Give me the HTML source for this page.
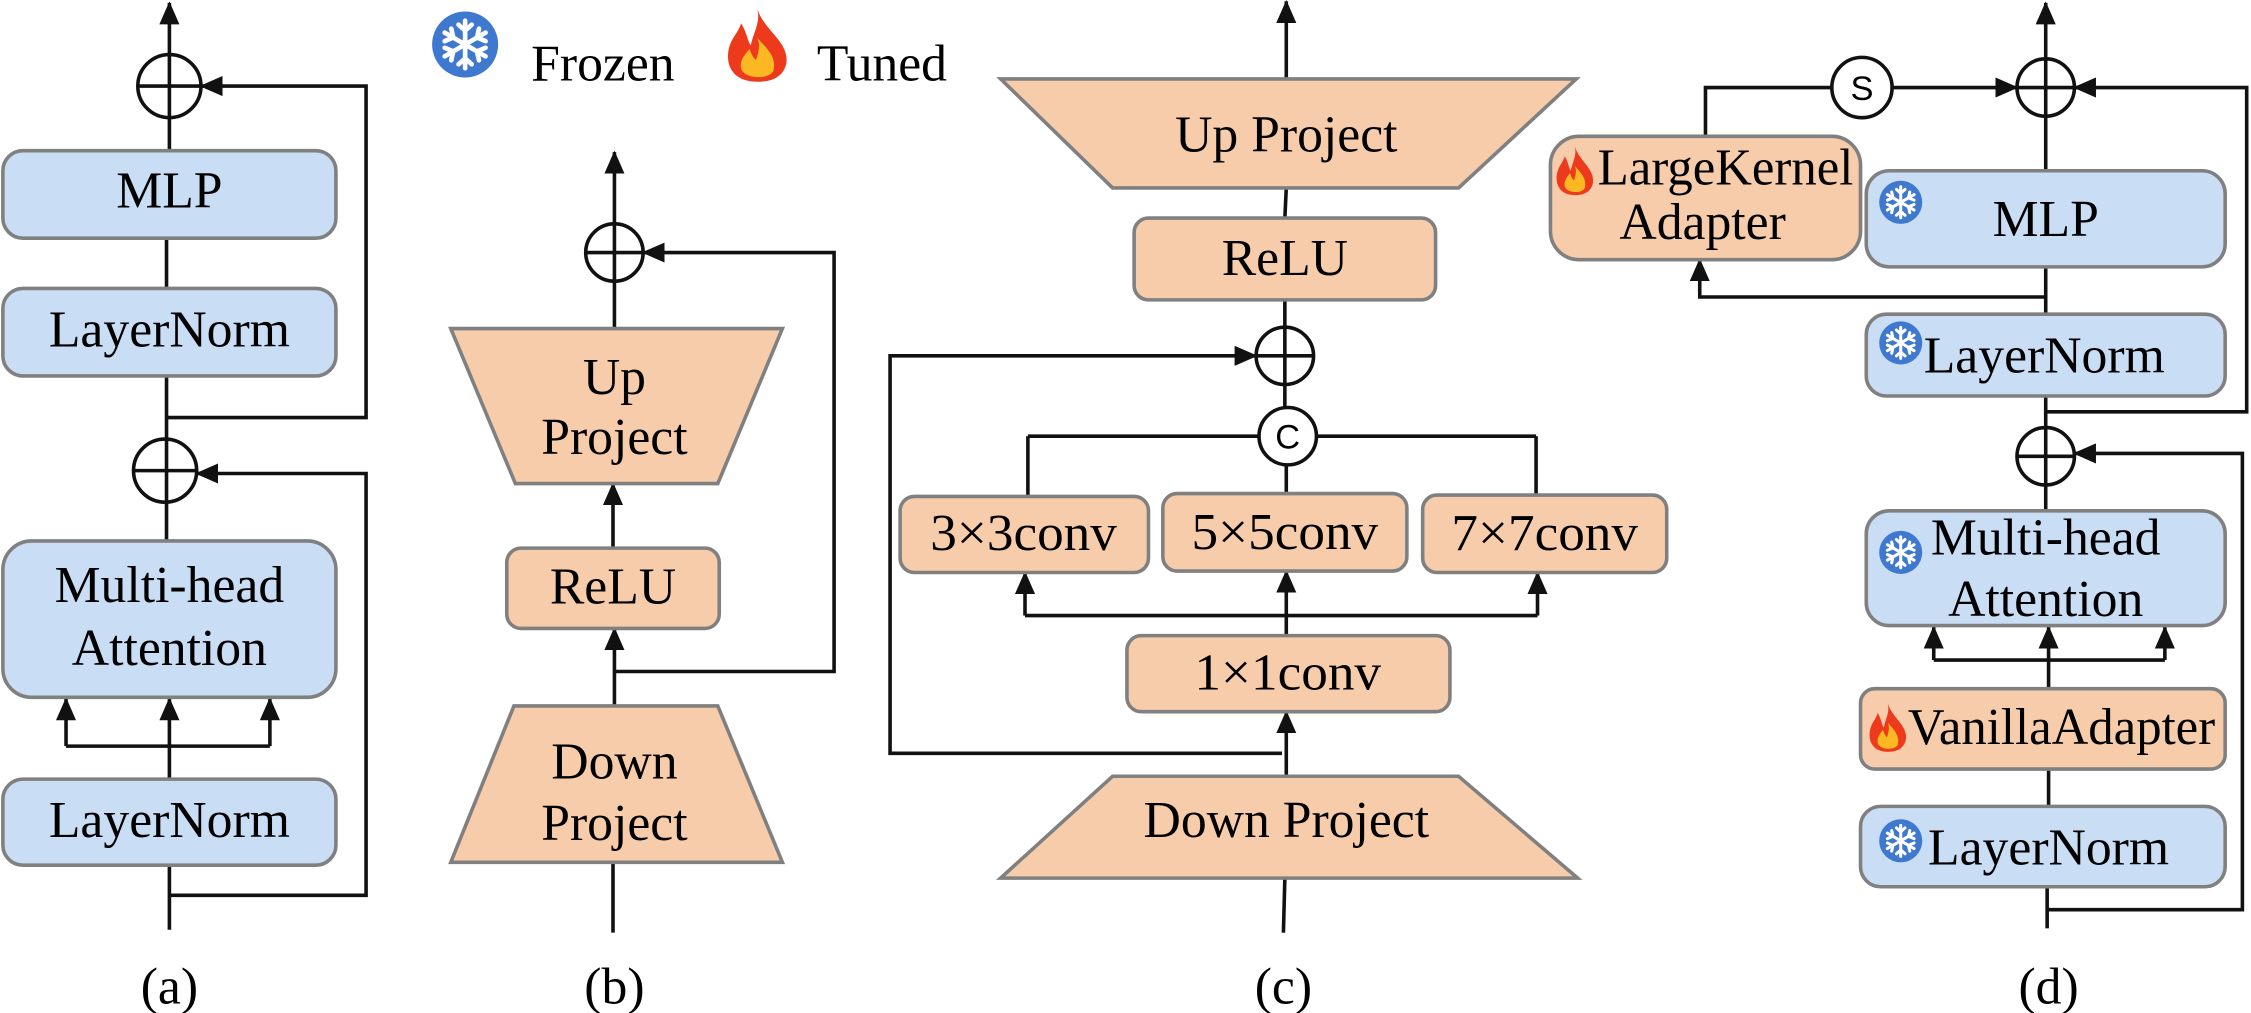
<!DOCTYPE html>
<html><head><meta charset="utf-8"><style>
html,body{margin:0;padding:0;background:#fff;}
svg{display:block;}
svg text{font-family:"Liberation Serif","Times New Roman","DejaVu Serif",serif;font-size:36px;fill:#000;}
svg text.sans{font-family:"Liberation Sans","DejaVu Sans",sans-serif;font-size:24px;}
</style></head><body>
<svg width="2251" height="1013" viewBox="0 0 1568 706" preserveAspectRatio="none" xmlns="http://www.w3.org/2000/svg" font-family="Liberation Serif, DejaVu Serif, serif">
<defs>
<marker id="ar" markerUnits="userSpaceOnUse" markerWidth="16" markerHeight="14" refX="15" refY="7" orient="auto">
<path d="M0,0 L16,7 L0,14 Z" fill="#111"/>
</marker>
<g id="snow">
<circle cx="0" cy="0" r="1" fill="#3f78cf"/>
<g stroke="#fff" stroke-width="0.14" stroke-linecap="round" fill="none">
<path d="M0,-0.72 V0.72 M-0.62,-0.36 L0.62,0.36 M-0.62,0.36 L0.62,-0.36"/>
<path d="M-0.2,-0.6 L0,-0.42 L0.2,-0.6 M-0.2,0.6 L0,0.42 L0.2,0.6 M-0.62,-0.1 L-0.36,-0.21 L-0.42,-0.48 M0.62,0.1 L0.36,0.21 L0.42,0.48 M0.62,-0.1 L0.36,-0.21 L0.42,-0.48 M-0.62,0.1 L-0.36,0.21 L-0.42,0.48"/>
</g>
</g>
<g id="flame">
<path d="M0.5,0 C0.6,0.3 1.0,0.45 0.95,0.75 C0.9,0.95 0.7,1 0.5,1 C0.2,1 0.02,0.85 0.05,0.6 C0.08,0.4 0.2,0.35 0.25,0.2 C0.35,0.35 0.35,0.45 0.4,0.5 C0.45,0.3 0.55,0.2 0.5,0 Z" fill="#ee3a1c"/>
<path d="M0.5,0.4 C0.65,0.55 0.8,0.65 0.75,0.85 C0.7,0.97 0.3,0.97 0.25,0.82 C0.22,0.7 0.32,0.62 0.38,0.55 C0.42,0.65 0.45,0.68 0.48,0.7 C0.52,0.6 0.55,0.5 0.5,0.4 Z" fill="#fbb822"/>
</g>
</defs>

<g stroke="#111" stroke-width="2.5" fill="none">
<line x1="118" y1="105" x2="118" y2="2" marker-end="url(#ar)"/>
<circle cx="118" cy="60" r="22"/>
<line x1="96" y1="60" x2="140" y2="60"/>
<polyline points="116,291 255,291 255,60 140,60" marker-end="url(#ar)"/>
<line x1="116" y1="166" x2="116" y2="201"/>
<line x1="116" y1="262" x2="116" y2="377"/>
<circle cx="115" cy="328" r="22"/>
<line x1="93" y1="328" x2="137" y2="328"/>
<polyline points="118,624 255,624 255,330 137,330" marker-end="url(#ar)"/>
<line x1="118" y1="648" x2="118" y2="603"/>
<line x1="118" y1="543" x2="118" y2="487" marker-end="url(#ar)"/>
<polyline points="46,520 188,520"/>
<line x1="46" y1="520" x2="46" y2="487" marker-end="url(#ar)"/>
<line x1="188" y1="520" x2="188" y2="487" marker-end="url(#ar)"/>

<line x1="428" y1="229" x2="428" y2="106" marker-end="url(#ar)"/>
<circle cx="428" cy="176" r="20"/>
<line x1="408" y1="176" x2="448" y2="176"/>
<polyline points="428,468 581,468 581,176 448,176" marker-end="url(#ar)"/>
<line x1="427" y1="382" x2="427" y2="337" marker-end="url(#ar)"/>
<line x1="428" y1="492" x2="428" y2="438" marker-end="url(#ar)"/>
<line x1="427" y1="650" x2="427" y2="601"/>

<line x1="896" y1="55" x2="896" y2="1" marker-end="url(#ar)"/>
<line x1="896" y1="131" x2="895" y2="152"/>
<line x1="895" y1="209" x2="895" y2="284"/>
<circle cx="895" cy="248" r="20"/>
<line x1="875" y1="248" x2="915" y2="248"/>
<polyline points="893,525 620,525 620,248 875,248" marker-end="url(#ar)"/>
<line x1="716" y1="346" x2="716" y2="304"/>
<line x1="716" y1="304" x2="1070" y2="304"/>
<line x1="1070" y1="304" x2="1070" y2="346"/>
<line x1="896" y1="324" x2="896" y2="344"/>
<circle cx="897" cy="304" r="20" fill="#fff"/>
<polyline points="714,429 1071,429"/>
<line x1="714" y1="429" x2="714" y2="399" marker-end="url(#ar)"/>
<line x1="1071" y1="429" x2="1071" y2="399" marker-end="url(#ar)"/>
<line x1="896" y1="443" x2="896" y2="398" marker-end="url(#ar)"/>
<line x1="896" y1="541" x2="896" y2="496" marker-end="url(#ar)"/>
<line x1="894" y1="650" x2="895" y2="612"/>

<line x1="1425" y1="119" x2="1425" y2="2" marker-end="url(#ar)"/>
<circle cx="1425" cy="61" r="20"/>
<line x1="1405" y1="61" x2="1445" y2="61"/>
<polyline points="1188,95 1188,61 1276,61"/>
<line x1="1318" y1="61" x2="1405" y2="61" marker-end="url(#ar)"/>
<circle cx="1297" cy="61" r="21" fill="#fff"/>
<polyline points="1425,287 1565,287 1565,61 1445,61" marker-end="url(#ar)"/>
<line x1="1425" y1="186" x2="1425" y2="219"/>
<polyline points="1425,207 1184,207 1184,181" marker-end="url(#ar)"/>
<line x1="1425" y1="276" x2="1425" y2="356"/>
<circle cx="1425" cy="318" r="20"/>
<line x1="1405" y1="318" x2="1445" y2="318"/>
<polyline points="1427,634 1562,634 1562,316 1445,316" marker-end="url(#ar)"/>
<line x1="1427" y1="480" x2="1427" y2="437" marker-end="url(#ar)"/>
<polyline points="1347,460 1508,460"/>
<line x1="1347" y1="460" x2="1347" y2="437" marker-end="url(#ar)"/>
<line x1="1508" y1="460" x2="1508" y2="437" marker-end="url(#ar)"/>
<line x1="1427" y1="536" x2="1427" y2="562"/>
<line x1="1426" y1="647" x2="1426" y2="618"/>
</g>

<g stroke="#808080" stroke-width="2.5">
<rect x="2" y="105" width="232" height="61" rx="14" fill="#c9ddf5"/>
<rect x="2" y="201" width="232" height="61" rx="14" fill="#c9ddf5"/>
<rect x="2" y="377" width="232" height="109" rx="20" fill="#c9ddf5"/>
<rect x="2" y="543" width="232" height="60" rx="14" fill="#c9ddf5"/>

<polygon points="314,229 545,229 500,337 359,337" fill="#f7ccab"/>
<rect x="353" y="382" width="148" height="56" rx="10" fill="#f7ccab"/>
<polygon points="358,492 500,492 545,601 314,601" fill="#f7ccab"/>

<polygon points="697,55 1098,55 1016,131 775,131" fill="#f7ccab"/>
<rect x="790" y="152" width="210" height="57" rx="10" fill="#f7ccab"/>
<rect x="627" y="346" width="173" height="53" rx="10" fill="#f7ccab"/>
<rect x="810" y="344" width="170" height="54" rx="10" fill="#f7ccab"/>
<rect x="991" y="345" width="170" height="54" rx="10" fill="#f7ccab"/>
<rect x="785" y="443" width="225" height="53" rx="10" fill="#f7ccab"/>
<polygon points="775,541 1016,541 1099,612 697,612" fill="#f7ccab"/>

<rect x="1080" y="95" width="216" height="86" rx="20" fill="#f7ccab"/>
<rect x="1300" y="119" width="250" height="67" rx="16" fill="#c9ddf5"/>
<rect x="1300" y="219" width="250" height="57" rx="14" fill="#c9ddf5"/>
<rect x="1300" y="356" width="250" height="80" rx="16" fill="#c9ddf5"/>
<rect x="1296" y="480" width="254" height="56" rx="10" fill="#f7ccab"/>
<rect x="1296" y="562" width="254" height="56" rx="14" fill="#c9ddf5"/>
</g>

<use href="#snow" transform="translate(324,31) scale(23)"/>
<use href="#flame" transform="translate(505,6) scale(45,51)"/>
<use href="#flame" transform="translate(1083,102) scale(28,34)"/>
<use href="#flame" transform="translate(1301,490) scale(28,34)"/>
<use href="#snow" transform="translate(1324,141) scale(15)"/>
<use href="#snow" transform="translate(1324,239) scale(15)"/>
<use href="#snow" transform="translate(1324,385) scale(15)"/>
<use href="#snow" transform="translate(1324,586) scale(15)"/>

<g text-anchor="middle" dominant-baseline="central">
<text x="118" y="133">MLP</text>
<text x="118" y="230">LayerNorm</text>
<text x="118" y="408">Multi-head</text>
<text x="118" y="452">Attention</text>
<text x="118" y="572">LayerNorm</text>
<text x="118" y="688">(a)</text>

<text x="428" y="263">Up</text>
<text x="428" y="305">Project</text>
<text x="427" y="409">ReLU</text>
<text x="428" y="531">Down</text>
<text x="428" y="574">Project</text>
<text x="428" y="688">(b)</text>

<text x="896" y="94">Up Project</text>
<text x="895" y="180">ReLU</text>
<text x="713" y="372" textLength="130" lengthAdjust="spacingAndGlyphs">3×3conv</text>
<text x="895" y="371" textLength="130" lengthAdjust="spacingAndGlyphs">5×5conv</text>
<text x="1076" y="372" textLength="130" lengthAdjust="spacingAndGlyphs">7×7conv</text>
<text x="897" y="469" textLength="130" lengthAdjust="spacingAndGlyphs">1×1conv</text>
<text x="896" y="572">Down Project</text>
<text x="894" y="688">(c)</text>

<text x="1202" y="117" textLength="178" lengthAdjust="spacingAndGlyphs">LargeKernel</text>
<text x="1186" y="155">Adapter</text>
<text x="1425" y="153">MLP</text>
<text x="1424" y="248">LayerNorm</text>
<text x="1425" y="375">Multi-head</text>
<text x="1425" y="418">Attention</text>
<text x="1436" y="507" textLength="214" lengthAdjust="spacingAndGlyphs">VanillaAdapter</text>
<text x="1427" y="591">LayerNorm</text>
<text x="1427" y="688">(d)</text>
<text class="sans" x="897" y="305">C</text>
<text class="sans" x="1297" y="62">S</text>
</g>
<text x="370" y="56">Frozen</text>
<text x="569" y="56">Tuned</text>
</svg>
</body></html>
